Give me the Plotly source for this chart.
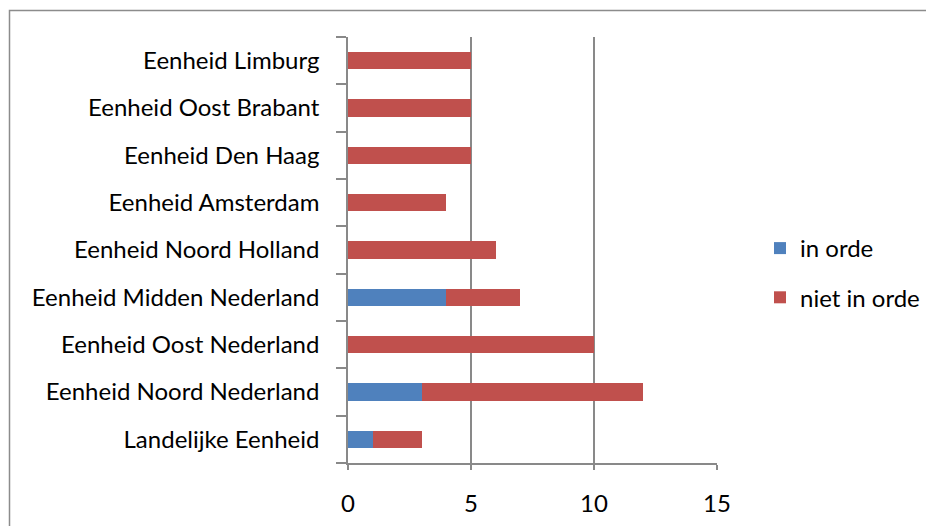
import plotly.graph_objects as go

categories = ["Landelijke Eenheid", "Eenheid Noord Nederland", "Eenheid Oost Nederland",
              "Eenheid Midden Nederland", "Eenheid Noord Holland", "Eenheid Amsterdam",
              "Eenheid Den Haag", "Eenheid Oost Brabant", "Eenheid Limburg"]
in_orde = [1, 3, 0, 4, 0, 0, 0, 0, 0]
niet_in_orde = [2, 9, 10, 3, 6, 4, 5, 5, 5]
x_ticks = [0, 5, 10, 15]

FONT = "Lato"
GRID = "#898989"
FS = 24

fig = go.Figure()
fig.add_trace(go.Bar(y=categories, x=in_orde, orientation="h", name="in orde",
                     marker=dict(color="#4F81BD", line=dict(width=0)), width=0.36,
                     legendgroup="a"))
fig.add_trace(go.Bar(y=categories, x=niet_in_orde, orientation="h", name="niet in orde",
                     marker=dict(color="#C0504D", line=dict(width=0)), width=0.36,
                     legendgroup="b"))

# page offset of the figure inside the browser window
OX, OY = 7, 8
W, H = 934, 526
L, R, T, B = 347 - OX, 716 - OX, 37 - OY, 463 - OY
pw, ph = R - L, B - T

def px_x(v):
    return (v - OX - L) / pw

def px_y(v):
    return (B - (v - OY)) / ph

fig.update_layout(
    width=W, height=H,
    margin=dict(l=L, r=W - R, t=T, b=H - B, pad=0),
    barmode="stack",
    plot_bgcolor="white", paper_bgcolor="white",
    font=dict(family=FONT, size=FS, color="black"),
    showlegend=True,
    legend=dict(x=px_x(759), y=px_y(273), xanchor="left", yanchor="middle",
                traceorder="grouped", tracegroupgap=15,
                font=dict(family=FONT, size=FS, color="black"),
                itemwidth=30, bgcolor="rgba(0,0,0,0)"),
    xaxis=dict(range=[0, 15], tickvals=x_ticks, showgrid=True, gridcolor=GRID, gridwidth=1.5,
               showline=True, linecolor=GRID, linewidth=1.5, ticks="outside", ticklen=5,
               tickcolor=GRID, tickwidth=1.5, zeroline=False, ticklabelstandoff=13,
               fixedrange=True),
    yaxis=dict(categoryorder="array", categoryarray=categories, showgrid=False,
               showline=True, linecolor=GRID, linewidth=1.5, ticks="outside", ticklen=10,
               tickcolor=GRID, tickwidth=1.5, tickson="boundaries", ticklabelstandoff=22,
               fixedrange=True),
    shapes=[dict(type="rect", xref="paper", yref="paper",
                 x0=px_x(8.5), x1=px_x(1100), y0=px_y(700), y1=px_y(10.5),
                 line=dict(color="#8C8C8C", width=1.5), fillcolor="rgba(0,0,0,0)",
                 layer="below")],
)

fig.write_html("out.html")
